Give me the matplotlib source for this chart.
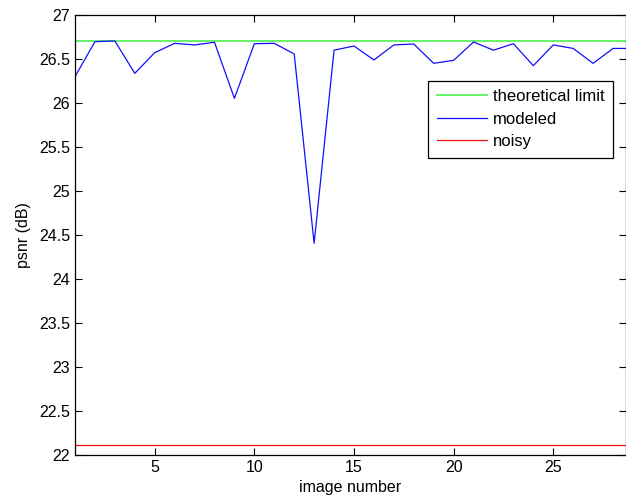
import numpy as np
import matplotlib.pyplot as plt

plt.rcParams['font.family'] = ['Liberation Sans', 'DejaVu Sans']

image_number = np.arange(1, 30)
modeled = [26.30, 26.697, 26.705, 26.337, 26.572, 26.678, 26.66, 26.69, 26.053,
           26.674, 26.678, 26.557, 24.406, 26.60, 26.648, 26.489, 26.66, 26.67,
           26.451, 26.485, 26.693, 26.60, 26.674, 26.424, 26.66, 26.62, 26.451,
           26.62, 26.62]
theoretical_limit = 26.705
noisy = 22.108

fig = plt.figure(figsize=(6.26, 5.0), dpi=100)
ax = fig.add_axes([75 / 626, 45 / 500, 551 / 626, 440 / 500])

ax.axhline(theoretical_limit, color='#4cf04c', lw=1.2, label='theoretical limit')
ax.plot(image_number, modeled, color='#1010ff', lw=0.9, label='modeled')
ax.axhline(noisy, color='#ee1111', lw=0.9, label='noisy')

ax.set_xlim(1, 28.65)
ax.set_ylim(22, 27)
ax.set_xticks([5, 10, 15, 20, 25])
ax.set_yticks(np.arange(22, 27.01, 0.5))
ax.set_yticklabels(['22', '22.5', '23', '23.5', '24', '24.5', '25', '25.5', '26', '26.5', '27'])
ax.tick_params(direction='in', top=True, right=True, length=5, labelsize=11.5, width=0.8)
for s in ax.spines.values():
    s.set_linewidth(0.9)

ax.set_xlabel('image number', fontsize=11.5, labelpad=4)
ax.set_ylabel('psnr (dB)', fontsize=11.5, labelpad=6)

leg = ax.legend(loc='upper left', bbox_to_anchor=(0.641, 0.85), borderaxespad=0,
                fancybox=False, framealpha=1, edgecolor='black', fontsize=12,
                handlelength=3.0, handletextpad=0.4, labelspacing=0.45, borderpad=0.5)
leg.get_frame().set_linewidth(0.9)

fig.savefig('out.png', dpi=100)
